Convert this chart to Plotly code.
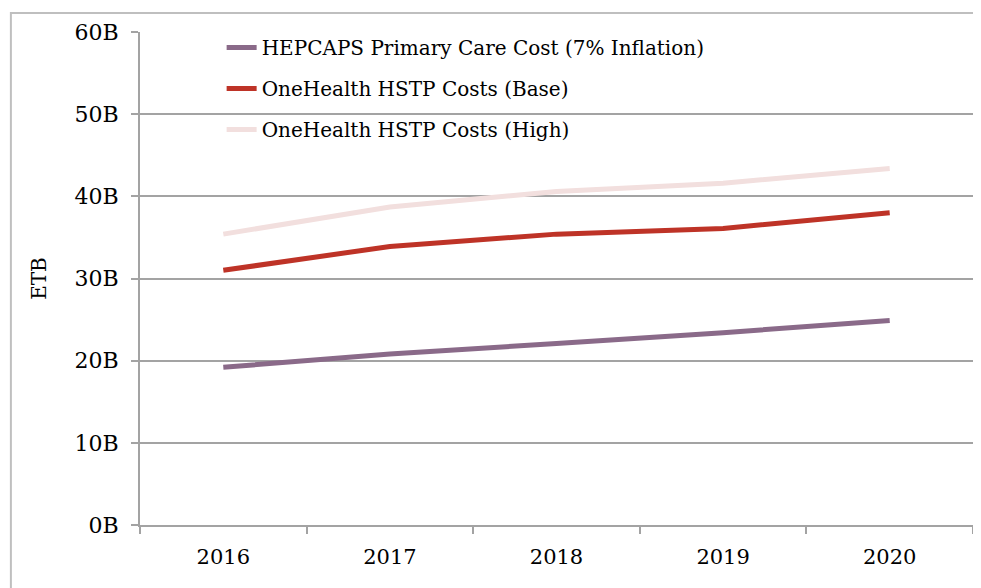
import plotly.graph_objects as go

years = ["2016", "2017", "2018", "2019", "2020"]
hepcaps = [19.2, 20.8, 22.1, 23.4, 24.9]
base = [31.0, 33.9, 35.4, 36.1, 38.0]
high = [35.4, 38.7, 40.6, 41.6, 43.4]
y_ticks = [0, 10, 20, 30, 40, 50, 60]
y_labels = ["0B", "10B", "20B", "30B", "40B", "50B", "60B"]

names = ["HEPCAPS Primary Care Cost (7% Inflation)",
         "OneHealth HSTP Costs (Base)",
         "OneHealth HSTP Costs (High)"]
series = [hepcaps, base, high]
colors = ["#8A6A89", "#BE3327", "#F2DFDE"]

FONT = "DejaVu Serif"
GRID = "#A3A3A3"

fig = go.Figure()
for i, (n, s, c) in enumerate(zip(names, series, colors)):
    fig.add_trace(go.Scatter(x=years, y=s, name=n, mode="lines",
                             line=dict(color=c, width=5),
                             legendgroup=str(i)))

fig.update_layout(
    width=981, height=588,
    margin=dict(l=132, r=16, t=24, b=71, autoexpand=False),
    paper_bgcolor="white", plot_bgcolor="white",
    font=dict(family=FONT, size=20, color="#000000"),
    showlegend=True,
    legend=dict(x=0.098, y=1.008, xanchor="left", yanchor="top",
                bgcolor="rgba(0,0,0,0)", traceorder="grouped",
                tracegroupgap=12, font=dict(family=FONT, size=20)),
    xaxis=dict(type="category", range=[-0.5, 4.5], showgrid=False,
               showline=True, linecolor=GRID, linewidth=2,
               ticks="outside", tickson="boundaries", ticklen=7,
               tickcolor=GRID, tickwidth=2, ticklabelstandoff=12,
               tickfont=dict(family=FONT, size=21)),
    yaxis=dict(range=[0, 60], tickvals=y_ticks, ticktext=y_labels,
               showgrid=True, gridcolor=GRID, gridwidth=2,
               showline=True, linecolor=GRID, linewidth=2,
               ticks="outside", ticklen=7, tickcolor=GRID, tickwidth=2,
               zeroline=False, ticklabelstandoff=8,
               tickfont=dict(family=FONT, size=22),
               title=dict(text="ETB", font=dict(family=FONT, size=20), standoff=22)),
    shapes=[dict(type="rect", xref="paper", yref="paper",
                 x0=-0.155, x1=1.06, y0=-0.2, y1=1.0385,
                 line=dict(color="#BFBFBF", width=2), layer="below")],
)

fig.write_html("out.html")
